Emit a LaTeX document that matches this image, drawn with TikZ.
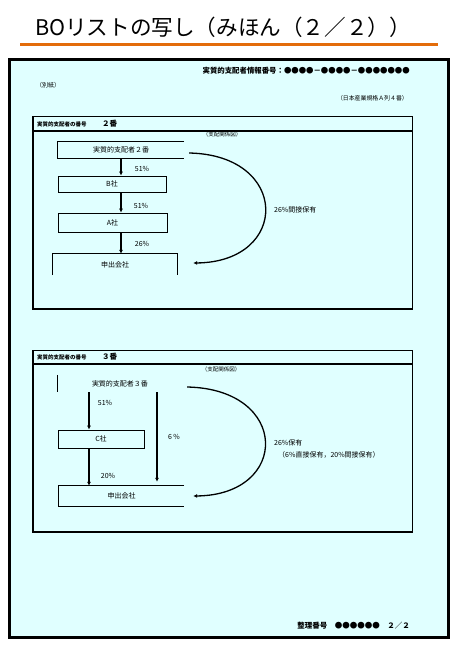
\documentclass[tikz,border=0pt]{standalone}
\usepackage{fontspec}
\setmainfont{Noto Sans CJK JP}
\usetikzlibrary{arrows.meta}
\definecolor{pagecyan}{RGB}{224,255,255}
\definecolor{titleorange}{RGB}{227,108,10}

\begin{document}
\begin{tikzpicture}[
  x=1pt, y=-1pt,
  txt/.style={inner sep=0pt, font=\fontsize{7}{8}\selectfont},
  small/.style={inner sep=0pt, font=\fontsize{5.5}{6}\selectfont},
  box/.style={inner sep=0pt, font=\fontsize{7}{8}\selectfont},
  boxd/.style={box, draw, line width=0.8pt},
  arrow/.style={-{Latex[length=4pt,width=4pt]}, line width=1.6pt},
  curvearrow/.style={-{Latex[length=4pt,width=4pt]}, line width=1.3pt},
  edge/.style={line width=0.8pt}
]

\fill[white] (0,0) rectangle (461,657);
\useasboundingbox (0,0) rectangle (461,657);

% title
\node[inner sep=0pt, font=\fontsize{21.6}{26}\selectfont] (title) at (223,27) {BOリストの写し（みほん（２／２））};
\draw[titleorange, line width=3pt] (20,44) -- (438,44);

% page
\filldraw[fill=pagecyan, line width=3pt] (9.5,59.5) rectangle (448.5,637.5);
\node[txt, anchor=east, font=\bfseries\fontsize{7.4}{8}\selectfont] (infono) at (410,71) {実質的支配者情報番号：●●●●－●●●●－●●●●●●●};
\node[small, anchor=west, font=\fontsize{6}{7}\selectfont] (annex) at (36,85) {（別紙）};
\node[small, anchor=east, font=\fontsize{5.9}{7}\selectfont] (jis) at (408,98) {（日本産業規格Ａ列４番）};

% section 2
\draw[line width=1pt] (32,116) rectangle (412,309);
\draw[line width=2pt] (33,116) -- (33,309) -- (412,309);
\draw[line width=2pt] (32,131) -- (412,131);
\node[small, anchor=west, font=\bfseries\fontsize{5.5}{6}\selectfont] (head2) at (37,124) {実質的支配者の番号};
\node[txt, anchor=west, font=\bfseries\fontsize{7.5}{8}\selectfont] (no2) at (102,124) {２番};
\node[small] (chart2) at (222,134.5) {（支配関係図）};

\node[box, minimum width=126pt, minimum height=16pt] (holder2) at (121,150) {実質的支配者２番};
\draw[edge] (holder2.north east) -- (holder2.north west) -- (holder2.south west) -- (holder2.south east);
\node[boxd, minimum width=108pt, minimum height=16pt] (compB) at (112,184) {B社};
\node[boxd, minimum width=109pt, minimum height=19pt] (compA) at (112.5,222.5) {A社};
\node[box, minimum width=124pt, minimum height=21pt] (applicant2) at (115,264.5) {申出会社};
\draw[edge] (applicant2.south west) -- (applicant2.north west) -- (applicant2.north east) -- (applicant2.south east);

\draw[arrow] (holder2.south) -- (holder2.south |- compB.north);
\draw[arrow] (holder2.south |- compB.south) -- (holder2.south |- compA.north);
\draw[arrow] (holder2.south |- compA.south) -- (holder2.south |- applicant2.north);
\node[txt] (pB) at (142,169) {51\%};
\node[txt] (pA) at (141,206) {51\%};
\node[txt] (pApp2) at (142,244) {26\%};

\draw[curvearrow] ([xshift=5pt,yshift=-3pt]holder2.east) .. controls (290,155) and (290,262) .. ([xshift=16pt,yshift=1.5pt]applicant2.east);
\node[txt, anchor=west] (indirect2) at (274,210) {26\%間接保有};

% section 3
\draw[line width=1pt] (32,350) rectangle (412,532);
\draw[line width=2pt] (33,350) -- (33,532) -- (412,532);
\draw[line width=2pt] (32,364) -- (412,364);
\node[small, anchor=west, font=\bfseries\fontsize{5.5}{6}\selectfont] (head3) at (37,357) {実質的支配者の番号};
\node[txt, anchor=west, font=\bfseries\fontsize{7.5}{8}\selectfont] (no3) at (102,357) {３番};
\node[small] (chart3) at (221,369.5) {（支配関係図）};

\node[box, minimum width=124pt, minimum height=17pt] (holder3) at (120,383.5) {実質的支配者３番};
\draw[edge] (holder3.north west) -- (holder3.south west);
\node[boxd, minimum width=86pt, minimum height=18pt] (compC) at (101,439) {C社};
\node[box, minimum width=125pt, minimum height=20pt] (applicant3) at (121.5,496) {申出会社};
\draw[edge] (applicant3.north east) -- (applicant3.north west) -- (applicant3.south west) -- (applicant3.south east);

\draw[arrow] ([xshift=-12pt]compC.north |- holder3.south) -- ([xshift=-12pt]compC.north);
\draw[arrow] ([xshift=-12pt]compC.south) -- ([xshift=-12pt]compC.south |- applicant3.north);
\draw[arrow, shorten >=4pt] ([xshift=37pt]holder3.south) -- ([xshift=37pt]holder3.south |- applicant3.north);
\node[txt] (pC) at (105,403) {51\%};
\node[txt] (pDirect) at (174,437) {6 \%};
\node[txt] (pApp3) at (108,476) {20\%};

\draw[curvearrow] ([xshift=5pt,yshift=-3.5pt]holder3.east) .. controls (290,389) and (290,495) .. ([xshift=9pt]applicant3.east);
\node[txt, anchor=west] (total3) at (274,443) {26\%保有};
\node[txt, anchor=west] (detail3) at (278,455) {（6\%直接保有，20\%間接保有）};

% footer
\node[txt, anchor=east, font=\bfseries\fontsize{7.5}{8}\selectfont] (refno) at (410,626) {整理番号　●●●●●●　２／２};

\end{tikzpicture}
\end{document}
